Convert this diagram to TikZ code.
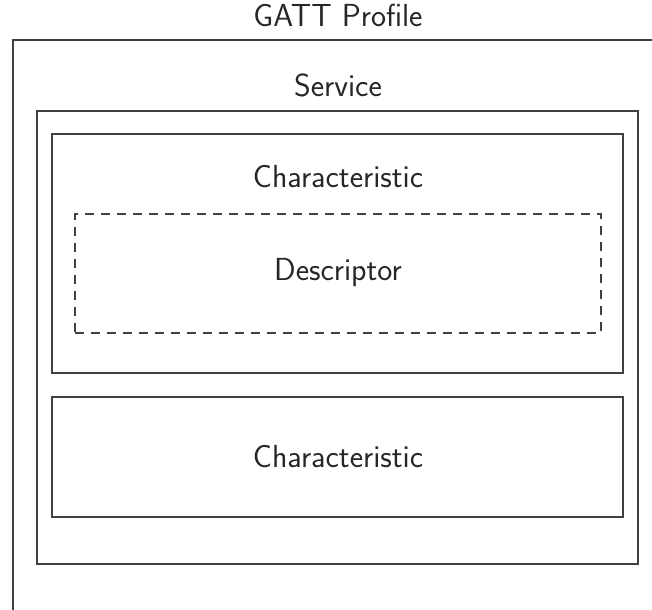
\documentclass[tikz,border=0pt]{standalone}
\usepackage{fontspec}
\begin{document}
\begin{tikzpicture}[x=1bp,y=-1bp,
  frame/.style={draw=black!75, line width=1.6bp, rectangle, inner sep=0pt, anchor=north west},
  dashframe/.style={frame, dash pattern=on 9bp off 7bp},
  lbl/.style={font=\sffamily\fontsize{32}{38}\selectfont, text=black!85, inner sep=0pt, anchor=base}
]
\useasboundingbox (0,0) rectangle (652,610);
\clip (0,0) rectangle (652,610);
% outer profile frame runs past the page edge on the right and bottom
\node[frame, minimum width=660bp, minimum height=600bp] (profile) at (12,39) {};
\node[frame, minimum width=601bp, minimum height=453bp] (service) at (36,110) {};
\node[frame, minimum width=571bp, minimum height=239bp] (char1) at (51,133) {};
\node[dashframe, minimum width=526bp, minimum height=119bp] (desc) at (74,213) {};
\node[frame, minimum width=571bp, minimum height=120bp] (char2) at (51,396) {};
% labels
\node[lbl] (tprofile) at (338,27) {GATT Profile};
\node[lbl] (tservice) at (338,97) {Service};
\node[lbl] (tchar1) at (338,188) {Characteristic};
\node[lbl] (tdesc) at (338,280) {Descriptor};
\node[lbl] (tchar2) at (338,467) {Characteristic};
\end{tikzpicture}
\end{document}
